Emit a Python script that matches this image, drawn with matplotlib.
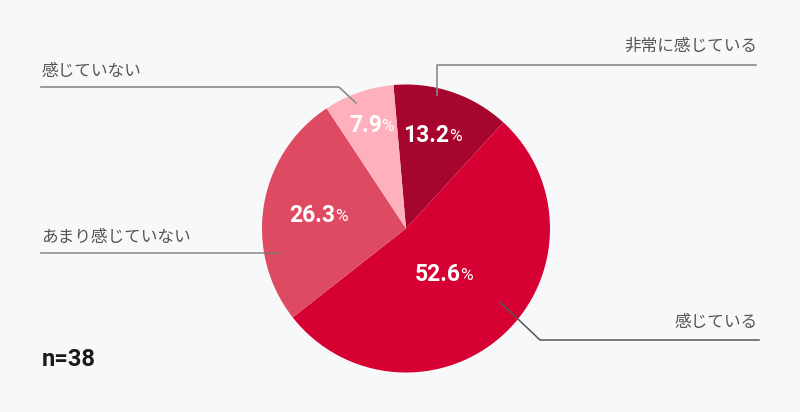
import numpy as np
import matplotlib.pyplot as plt

plt.rcParams['font.family'] = ['Noto Sans CJK JP', 'DejaVu Sans']

# データ
labels = ["非常に感じている", "感じている", "あまり感じていない", "感じていない"]
values = [13.2, 52.6, 26.3, 7.9]
colors = ["#A6062D", "#D70032", "#DF4A63", "#FEB0BD"]
n_total = 38

W, H = 800, 412
bg = "#F7F8FA"


def Y(y):
    # 画像座標 (上から) -> 軸座標 (下から)
    return H - y


fig = plt.figure(figsize=(8, 4.12), dpi=100, facecolor=bg)
ax = fig.add_axes([0, 0, 1, 1])
ax.set_facecolor(bg)

cx, cy, r = 406, Y(228.5), 144
wedges, _ = ax.pie(values, colors=colors, startangle=95, counterclock=False,
                   center=(cx, cy), radius=r, frame=True,
                   wedgeprops=dict(linewidth=0))
ax.set_xlim(0, W)
ax.set_ylim(0, H)
ax.set_aspect("equal")
ax.axis("off")

# パーセント表示
label_r = [0.68, 0.44, 0.58, 0.76]
for w, v, fr in zip(wedges, values, label_r):
    mid = np.deg2rad((w.theta1 + w.theta2) / 2)
    x = cx + fr * r * np.cos(mid)
    y = cy + fr * r * np.sin(mid)
    t = ax.text(x + 12, y, f"{v:.1f}", color="white", fontsize=16.5,
                fontweight="bold", ha="right", va="center", family="Roboto")
    ax.annotate("%", xy=(1, 0.13), xycoords=t, color="white", fontsize=12.5,
                ha="left", va="bottom", family="Roboto",
                xytext=(-0.5, 0), textcoords="offset points")

line_c = "#8A8A8A"
txt_c = "#555555"

# 非常に感じている
ax.plot([437, 437, 756], [Y(95), Y(65), Y(65)], color=line_c, lw=1.2)
ax.text(757, Y(46), labels[0], color=txt_c, fontsize=12, ha="right", va="center")

# 感じている
ax.plot([500, 540, 759], [Y(302), Y(340), Y(340)], color="#555555", lw=1.1)
ax.text(758, Y(322), labels[1], color=txt_c, fontsize=12, ha="right", va="center")

# あまり感じていない
ax.plot([41, 280], [Y(253), Y(253)], color="#777777", lw=1.2, alpha=0.8)
ax.text(41, Y(237), labels[2], color=txt_c, fontsize=12, ha="left", va="center")

# 感じていない
ax.plot([41, 339, 356], [Y(87), Y(87), Y(103)], color=line_c, lw=1.2)
ax.text(41, Y(71), labels[3], color=txt_c, fontsize=12, ha="left", va="center")

ax.text(42, Y(360), f"n={n_total}", color="#1A1A1A", fontsize=17,
        fontweight="bold", ha="left", va="center", family="Roboto")

fig.savefig("out.png", dpi=100, facecolor=bg)
